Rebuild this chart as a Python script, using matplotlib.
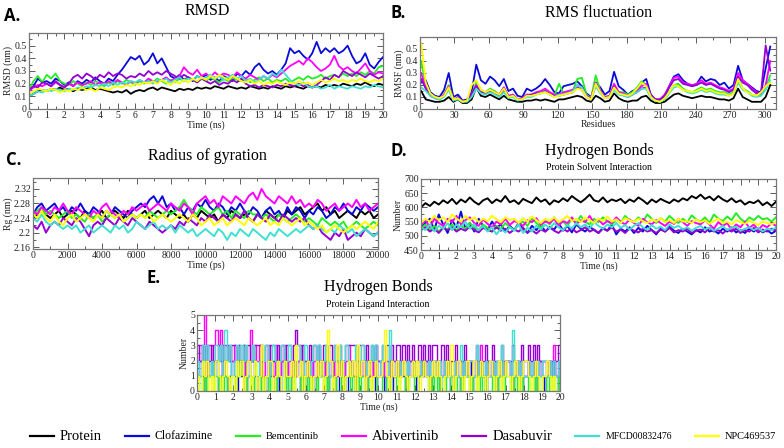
import numpy as np
import matplotlib
matplotlib.use("Agg")   # no display in the sandbox
import matplotlib.pyplot as plt
from matplotlib.lines import Line2D
from matplotlib.ticker import MultipleLocator, FuncFormatter

plt.rcParams["font.family"] = ["Liberation Serif", "DejaVu Serif"]

# ── Series names / colours (xmgrace default palette) ───────────────────────
NAMES  = ["Protein", "Clofazimine", "Bemcentinib", "Abivertinib",
          "Dasabuvir", "MFCD00832476", "NPC469537"]
COLORS = ["#000000", "#0a0ad8", "#22ee22", "#ff00ff",
          "#9400d3", "#40e0d0", "#ffff00"]
LEGEND_SIZES = [10.5, 8.5, 7.5, 10.5, 10.5, 7, 7.5]

# ── A. RMSD (nm), 0-20 ns, sampled every 0.25 ns ───────────────────────────
RMSD_PROTEIN = [0.10, 0.12, 0.14, 0.15, 0.14, 0.16, 0.15, 0.17, 0.15, 0.16, 0.14, 0.16, 0.15,
                0.16, 0.17, 0.15, 0.16, 0.15, 0.14, 0.13, 0.14, 0.13, 0.15, 0.12, 0.14, 0.15,
                0.14, 0.16, 0.17, 0.15, 0.17, 0.16, 0.15, 0.14, 0.16, 0.15, 0.16, 0.15, 0.17,
                0.16, 0.17, 0.16, 0.18, 0.17, 0.16, 0.18, 0.17, 0.16, 0.17, 0.16, 0.18, 0.17,
                0.16, 0.17, 0.16, 0.18, 0.17, 0.16, 0.18, 0.17, 0.18, 0.17, 0.16, 0.18, 0.17,
                0.18, 0.17, 0.19, 0.18, 0.19, 0.18, 0.20, 0.19, 0.18, 0.20, 0.19, 0.21, 0.19,
                0.18, 0.20, 0.19]
RMSD_CLOF = [0.14, 0.18, 0.24, 0.21, 0.22, 0.20, 0.24, 0.22, 0.19, 0.21, 0.18, 0.22, 0.20,
             0.23, 0.21, 0.25, 0.22, 0.20, 0.24, 0.22, 0.27, 0.31, 0.36, 0.41, 0.39, 0.42,
             0.35, 0.38, 0.44, 0.36, 0.40, 0.33, 0.26, 0.24, 0.27, 0.23, 0.25, 0.22, 0.26,
             0.24, 0.27, 0.23, 0.25, 0.22, 0.26, 0.24, 0.22, 0.28, 0.26, 0.30, 0.27, 0.33,
             0.36, 0.31, 0.28, 0.30, 0.27, 0.31, 0.36, 0.48, 0.44, 0.46, 0.42, 0.39, 0.44,
             0.53, 0.44, 0.48, 0.45, 0.48, 0.44, 0.46, 0.50, 0.42, 0.36, 0.38, 0.44, 0.35,
             0.32, 0.37, 0.41]
RMSD_BEMC = [0.15, 0.22, 0.26, 0.21, 0.27, 0.24, 0.28, 0.22, 0.20, 0.19, 0.22, 0.20, 0.18,
             0.21, 0.19, 0.22, 0.20, 0.18, 0.21, 0.19, 0.22, 0.20, 0.23, 0.21, 0.19, 0.22,
             0.20, 0.23, 0.21, 0.24, 0.22, 0.20, 0.23, 0.21, 0.24, 0.22, 0.25, 0.23, 0.21,
             0.24, 0.22, 0.25, 0.23, 0.21, 0.24, 0.22, 0.25, 0.23, 0.22, 0.24, 0.21, 0.23,
             0.25, 0.22, 0.24, 0.21, 0.23, 0.22, 0.24, 0.21, 0.23, 0.25, 0.23, 0.26, 0.24,
             0.25, 0.27, 0.24, 0.26, 0.27, 0.25, 0.28, 0.26, 0.28, 0.26, 0.29, 0.27, 0.30,
             0.28, 0.33, 0.34]
RMSD_ABIV = [0.14, 0.17, 0.19, 0.18, 0.20, 0.18, 0.21, 0.19, 0.17, 0.20, 0.18, 0.21, 0.19,
             0.20, 0.22, 0.19, 0.21, 0.20, 0.22, 0.20, 0.23, 0.21, 0.19, 0.22, 0.20, 0.23,
             0.21, 0.24, 0.22, 0.21, 0.23, 0.25, 0.22, 0.24, 0.26, 0.33, 0.29, 0.27, 0.31,
             0.26, 0.28, 0.25, 0.29, 0.26, 0.28, 0.27, 0.25, 0.29, 0.26, 0.24, 0.27, 0.25,
             0.23, 0.26, 0.24, 0.27, 0.25, 0.28, 0.31, 0.34, 0.36, 0.38, 0.35, 0.40, 0.37,
             0.33, 0.30, 0.32, 0.35, 0.42, 0.34, 0.31, 0.33, 0.30, 0.28, 0.32, 0.36, 0.30,
             0.27, 0.29, 0.28]
RMSD_DASA = [0.15, 0.18, 0.17, 0.21, 0.20, 0.18, 0.22, 0.19, 0.17, 0.20, 0.25, 0.27, 0.24,
             0.28, 0.26, 0.23, 0.27, 0.25, 0.29, 0.26, 0.28, 0.27, 0.24, 0.26, 0.25, 0.28,
             0.26, 0.30, 0.27, 0.29, 0.27, 0.30, 0.28, 0.26, 0.24, 0.27, 0.25, 0.23, 0.21,
             0.24, 0.22, 0.20, 0.22, 0.19, 0.21, 0.20, 0.23, 0.21, 0.24, 0.20, 0.18, 0.19,
             0.17, 0.19, 0.18, 0.17, 0.19, 0.18, 0.20, 0.19, 0.18, 0.20, 0.18, 0.19, 0.17,
             0.19, 0.22, 0.25, 0.23, 0.27, 0.25, 0.30, 0.28, 0.26, 0.29, 0.27, 0.25, 0.28,
             0.26, 0.24, 0.26]
RMSD_MFCD = [0.10, 0.12, 0.14, 0.13, 0.15, 0.14, 0.16, 0.15, 0.14, 0.16, 0.15, 0.17, 0.16,
             0.18, 0.17, 0.19, 0.18, 0.20, 0.18, 0.21, 0.19, 0.21, 0.20, 0.22, 0.21, 0.23,
             0.21, 0.22, 0.20, 0.23, 0.22, 0.24, 0.21, 0.23, 0.25, 0.22, 0.24, 0.23, 0.26,
             0.24, 0.25, 0.27, 0.24, 0.26, 0.23, 0.25, 0.27, 0.24, 0.26, 0.22, 0.24, 0.21,
             0.23, 0.26, 0.24, 0.28, 0.26, 0.31, 0.27, 0.23, 0.20, 0.19, 0.21, 0.18, 0.17,
             0.18, 0.16, 0.17, 0.19, 0.16, 0.18, 0.17, 0.16, 0.18, 0.17, 0.16, 0.18, 0.17,
             0.19, 0.18, 0.17]
RMSD_NPC = [0.12, 0.14, 0.16, 0.15, 0.14, 0.16, 0.15, 0.13, 0.15, 0.14, 0.16, 0.15, 0.17,
            0.15, 0.16, 0.14, 0.17, 0.16, 0.15, 0.17, 0.18, 0.17, 0.19, 0.18, 0.20, 0.19,
            0.21, 0.20, 0.22, 0.20, 0.23, 0.21, 0.19, 0.22, 0.20, 0.23, 0.21, 0.24, 0.22,
            0.25, 0.23, 0.26, 0.24, 0.27, 0.25, 0.23, 0.26, 0.24, 0.22, 0.21, 0.23, 0.20,
            0.22, 0.19, 0.21, 0.20, 0.22, 0.20, 0.19, 0.21, 0.20, 0.22, 0.20, 0.21, 0.19,
            0.21, 0.23, 0.21, 0.22, 0.24, 0.22, 0.23, 0.21, 0.23, 0.22, 0.24, 0.22, 0.21,
            0.23, 0.22, 0.24]

# ── B. RMSF (nm) per residue ───────────────────────────────────────────────
RESIDUES = [1, 5, 9, 13, 17, 21, 25, 29, 33, 37, 41, 45, 49, 53, 57, 61, 65, 69, 73, 77,
            81, 85, 89, 93, 97, 101, 105, 109, 113, 117, 121, 125, 129, 133, 137, 141,
            145, 149, 153, 157, 161, 165, 169, 173, 177, 181, 185, 189, 193, 197, 201,
            205, 209, 213, 217, 221, 225, 229, 233, 237, 241, 245, 249, 253, 257, 261,
            265, 269, 273, 277, 281, 285, 289, 293, 297, 301, 305]
RMSF_PROTEIN = [0.15, 0.08, 0.07, 0.06, 0.06, 0.07, 0.10, 0.06, 0.08, 0.05, 0.05, 0.08, 0.18,
                0.11, 0.10, 0.12, 0.10, 0.08, 0.11, 0.08, 0.07, 0.06, 0.06, 0.07, 0.07, 0.08,
                0.07, 0.08, 0.07, 0.06, 0.08, 0.08, 0.09, 0.10, 0.11, 0.10, 0.07, 0.06, 0.11,
                0.09, 0.06, 0.07, 0.13, 0.09, 0.07, 0.06, 0.07, 0.07, 0.10, 0.11, 0.07, 0.05,
                0.05, 0.06, 0.09, 0.12, 0.13, 0.11, 0.10, 0.09, 0.10, 0.11, 0.10, 0.10, 0.09,
                0.08, 0.08, 0.07, 0.09, 0.17, 0.10, 0.08, 0.06, 0.06, 0.06, 0.10, 0.20]
RMSF_CLOF = [0.22, 0.24, 0.14, 0.11, 0.10, 0.16, 0.30, 0.10, 0.12, 0.07, 0.08, 0.14, 0.37,
             0.24, 0.21, 0.27, 0.24, 0.19, 0.25, 0.15, 0.17, 0.11, 0.10, 0.17, 0.15, 0.17,
             0.20, 0.25, 0.20, 0.14, 0.13, 0.19, 0.20, 0.21, 0.23, 0.19, 0.13, 0.10, 0.22,
             0.18, 0.12, 0.15, 0.31, 0.19, 0.16, 0.12, 0.15, 0.16, 0.22, 0.25, 0.12, 0.08,
             0.07, 0.10, 0.19, 0.27, 0.29, 0.24, 0.21, 0.19, 0.21, 0.27, 0.23, 0.25, 0.24,
             0.20, 0.22, 0.17, 0.20, 0.36, 0.24, 0.21, 0.18, 0.15, 0.14, 0.34, 0.52]
RMSF_BEMC = [0.40, 0.20, 0.12, 0.10, 0.09, 0.12, 0.20, 0.08, 0.09, 0.06, 0.07, 0.12, 0.22,
             0.16, 0.14, 0.17, 0.15, 0.12, 0.18, 0.11, 0.12, 0.08, 0.08, 0.12, 0.11, 0.13,
             0.14, 0.15, 0.13, 0.11, 0.21, 0.13, 0.14, 0.15, 0.25, 0.26, 0.12, 0.09, 0.28,
             0.15, 0.10, 0.11, 0.20, 0.14, 0.14, 0.12, 0.14, 0.18, 0.23, 0.20, 0.10, 0.07,
             0.06, 0.08, 0.14, 0.20, 0.21, 0.17, 0.15, 0.14, 0.16, 0.18, 0.16, 0.17, 0.15,
             0.14, 0.14, 0.12, 0.14, 0.26, 0.17, 0.15, 0.12, 0.11, 0.12, 0.18, 0.28]
RMSF_ABIV = [0.30, 0.18, 0.12, 0.10, 0.09, 0.12, 0.19, 0.08, 0.09, 0.06, 0.07, 0.12, 0.20,
             0.15, 0.14, 0.16, 0.14, 0.12, 0.18, 0.11, 0.12, 0.08, 0.09, 0.12, 0.12, 0.14,
             0.15, 0.17, 0.14, 0.12, 0.12, 0.14, 0.15, 0.16, 0.20, 0.18, 0.11, 0.09, 0.22,
             0.15, 0.10, 0.11, 0.21, 0.14, 0.13, 0.11, 0.13, 0.15, 0.19, 0.21, 0.11, 0.08,
             0.08, 0.12, 0.19, 0.26, 0.27, 0.22, 0.21, 0.20, 0.21, 0.24, 0.21, 0.22, 0.20,
             0.18, 0.17, 0.15, 0.17, 0.30, 0.24, 0.21, 0.17, 0.14, 0.13, 0.20, 0.40]
RMSF_DASA = [0.25, 0.17, 0.11, 0.09, 0.08, 0.11, 0.17, 0.07, 0.10, 0.06, 0.07, 0.13, 0.19,
             0.14, 0.13, 0.15, 0.14, 0.11, 0.16, 0.10, 0.11, 0.08, 0.08, 0.11, 0.12, 0.13,
             0.13, 0.15, 0.12, 0.11, 0.11, 0.12, 0.13, 0.14, 0.18, 0.16, 0.10, 0.08, 0.20,
             0.14, 0.09, 0.10, 0.19, 0.13, 0.12, 0.10, 0.12, 0.14, 0.17, 0.18, 0.10, 0.08,
             0.08, 0.11, 0.18, 0.24, 0.25, 0.21, 0.20, 0.19, 0.20, 0.22, 0.20, 0.21, 0.19,
             0.17, 0.16, 0.14, 0.16, 0.27, 0.22, 0.20, 0.16, 0.13, 0.14, 0.53, 0.32]
RMSF_MFCD = [0.18, 0.15, 0.11, 0.09, 0.08, 0.10, 0.16, 0.07, 0.08, 0.06, 0.06, 0.10, 0.17,
             0.13, 0.12, 0.14, 0.12, 0.10, 0.14, 0.09, 0.10, 0.07, 0.08, 0.10, 0.10, 0.12,
             0.13, 0.14, 0.12, 0.10, 0.12, 0.12, 0.13, 0.15, 0.20, 0.18, 0.10, 0.08, 0.19,
             0.13, 0.09, 0.10, 0.16, 0.12, 0.11, 0.10, 0.12, 0.14, 0.17, 0.17, 0.09, 0.07,
             0.06, 0.08, 0.13, 0.18, 0.19, 0.16, 0.14, 0.13, 0.14, 0.16, 0.14, 0.15, 0.13,
             0.12, 0.12, 0.11, 0.13, 0.22, 0.16, 0.14, 0.11, 0.10, 0.11, 0.16, 0.24]
RMSF_NPC = [0.55, 0.22, 0.13, 0.10, 0.09, 0.11, 0.18, 0.08, 0.09, 0.06, 0.07, 0.20, 0.24,
            0.16, 0.14, 0.16, 0.14, 0.12, 0.17, 0.10, 0.11, 0.08, 0.08, 0.11, 0.11, 0.12,
            0.13, 0.14, 0.12, 0.10, 0.11, 0.12, 0.13, 0.14, 0.17, 0.16, 0.10, 0.08, 0.21,
            0.14, 0.09, 0.10, 0.18, 0.13, 0.12, 0.11, 0.13, 0.17, 0.22, 0.19, 0.10, 0.07,
            0.06, 0.09, 0.14, 0.20, 0.19, 0.16, 0.15, 0.14, 0.15, 0.17, 0.15, 0.16, 0.14,
            0.13, 0.13, 0.11, 0.13, 0.25, 0.17, 0.14, 0.12, 0.11, 0.14, 0.19, 0.22]

# ── C. Radius of gyration (nm), 0-20000 ps, sampled every 250 ps ───────────
RG_PROTEIN = [2.24, 2.25, 2.26, 2.25, 2.24, 2.25, 2.26, 2.24, 2.25, 2.26, 2.25, 2.24, 2.26,
              2.25, 2.24, 2.25, 2.26, 2.24, 2.25, 2.26, 2.25, 2.24, 2.26, 2.25, 2.24, 2.25,
              2.26, 2.24, 2.25, 2.26, 2.25, 2.24, 2.26, 2.25, 2.24, 2.25, 2.23, 2.25, 2.24,
              2.26, 2.25, 2.24, 2.25, 2.23, 2.25, 2.24, 2.26, 2.25, 2.24, 2.25, 2.24, 2.23,
              2.25, 2.24, 2.26, 2.25, 2.24, 2.25, 2.24, 2.26, 2.25, 2.26, 2.27, 2.25, 2.26,
              2.27, 2.28, 2.26, 2.27, 2.25, 2.26, 2.24, 2.25, 2.26, 2.25, 2.24, 2.26, 2.25,
              2.26, 2.24, 2.25]
RG_CLOF = [2.25, 2.27, 2.28, 2.26, 2.27, 2.28, 2.26, 2.27, 2.25, 2.27, 2.26, 2.28, 2.26,
           2.25, 2.27, 2.26, 2.24, 2.26, 2.25, 2.27, 2.26, 2.25, 2.24, 2.26, 2.27, 2.28,
           2.27, 2.29, 2.30, 2.28, 2.30, 2.27, 2.28, 2.26, 2.27, 2.25, 2.27, 2.26, 2.28,
           2.27, 2.29, 2.27, 2.26, 2.28, 2.27, 2.25, 2.27, 2.26, 2.28, 2.26, 2.25, 2.27,
           2.26, 2.24, 2.26, 2.27, 2.25, 2.26, 2.24, 2.27, 2.25, 2.27, 2.26, 2.24, 2.26,
           2.25, 2.27, 2.26, 2.24, 2.25, 2.27, 2.26, 2.28, 2.26, 2.25, 2.27, 2.26, 2.28,
           2.27, 2.26, 2.27]
RG_BEMC = [2.25, 2.26, 2.27, 2.25, 2.26, 2.25, 2.24, 2.25, 2.26, 2.24, 2.25, 2.24, 2.23,
           2.25, 2.24, 2.25, 2.23, 2.24, 2.25, 2.24, 2.25, 2.23, 2.24, 2.25, 2.24, 2.25,
           2.24, 2.26, 2.25, 2.24, 2.25, 2.26, 2.25, 2.26, 2.27, 2.29, 2.27, 2.26, 2.25,
           2.27, 2.26, 2.25, 2.26, 2.27, 2.25, 2.26, 2.24, 2.26, 2.25, 2.24, 2.26, 2.25,
           2.25, 2.24, 2.25, 2.24, 2.23, 2.25, 2.24, 2.23, 2.24, 2.25, 2.24, 2.23, 2.24,
           2.23, 2.22, 2.24, 2.23, 2.22, 2.23, 2.22, 2.23, 2.21, 2.22, 2.23, 2.22, 2.21,
           2.22, 2.23, 2.22]
RG_ABIV = [2.26, 2.25, 2.27, 2.26, 2.25, 2.27, 2.26, 2.28, 2.26, 2.25, 2.27, 2.26, 2.25,
           2.24, 2.26, 2.25, 2.27, 2.28, 2.26, 2.25, 2.24, 2.26, 2.25, 2.27, 2.26, 2.27,
           2.28, 2.26, 2.27, 2.28, 2.27, 2.26, 2.28, 2.27, 2.26, 2.28, 2.27, 2.25, 2.28,
           2.29, 2.30, 2.28, 2.29, 2.27, 2.30, 2.29, 2.28, 2.30, 2.29, 2.28, 2.30, 2.31,
           2.29, 2.32, 2.30, 2.29, 2.28, 2.30, 2.29, 2.28, 2.30, 2.28, 2.29, 2.27, 2.28,
           2.27, 2.29, 2.28, 2.26, 2.27, 2.28, 2.26, 2.27, 2.28, 2.27, 2.29, 2.27, 2.28,
           2.26, 2.27, 2.28]
RG_DASA = [2.22, 2.21, 2.23, 2.20, 2.22, 2.23, 2.22, 2.24, 2.23, 2.22, 2.24, 2.23, 2.21,
           2.19, 2.22, 2.23, 2.22, 2.24, 2.23, 2.22, 2.24, 2.23, 2.22, 2.24, 2.23, 2.22,
           2.21, 2.23, 2.22, 2.21, 2.20, 2.21, 2.22, 2.21, 2.23, 2.22, 2.24, 2.23, 2.22,
           2.24, 2.23, 2.25, 2.24, 2.23, 2.25, 2.24, 2.23, 2.25, 2.24, 2.26, 2.24, 2.23,
           2.25, 2.24, 2.23, 2.25, 2.24, 2.23, 2.25, 2.24, 2.23, 2.24, 2.23, 2.24, 2.22,
           2.21, 2.22, 2.20, 2.19, 2.18, 2.20, 2.19, 2.21, 2.18, 2.19, 2.20, 2.19, 2.21,
           2.20, 2.19, 2.20]
RG_MFCD = [2.24, 2.23, 2.25, 2.23, 2.22, 2.23, 2.22, 2.21, 2.22, 2.21, 2.22, 2.20, 2.21,
           2.22, 2.20, 2.21, 2.22, 2.21, 2.20, 2.22, 2.21, 2.22, 2.20, 2.21, 2.23, 2.22,
           2.21, 2.22, 2.23, 2.21, 2.22, 2.21, 2.22, 2.20, 2.22, 2.21, 2.20, 2.21, 2.19,
           2.20, 2.21, 2.20, 2.19, 2.21, 2.20, 2.18, 2.20, 2.19, 2.21, 2.20, 2.19, 2.21,
           2.20, 2.19, 2.18, 2.20, 2.19, 2.21, 2.20, 2.19, 2.20, 2.21, 2.20, 2.21, 2.22,
           2.21, 2.22, 2.21, 2.20, 2.21, 2.20, 2.22, 2.21, 2.20, 2.21, 2.19, 2.20, 2.21,
           2.20, 2.19, 2.20]
RG_NPC = [2.25, 2.24, 2.26, 2.24, 2.23, 2.25, 2.23, 2.22, 2.24, 2.25, 2.23, 2.24, 2.25,
          2.24, 2.23, 2.25, 2.24, 2.26, 2.25, 2.24, 2.25, 2.23, 2.24, 2.25, 2.24, 2.25,
          2.24, 2.25, 2.23, 2.24, 2.25, 2.24, 2.23, 2.24, 2.25, 2.24, 2.23, 2.25, 2.24,
          2.22, 2.23, 2.24, 2.22, 2.23, 2.24, 2.22, 2.23, 2.24, 2.23, 2.22, 2.24, 2.23,
          2.22, 2.23, 2.24, 2.22, 2.23, 2.22, 2.24, 2.23, 2.22, 2.23, 2.24, 2.22, 2.23,
          2.22, 2.21, 2.22, 2.20, 2.21, 2.22, 2.21, 2.20, 2.21, 2.22, 2.21, 2.22, 2.23,
          2.22, 2.21, 2.23]

# ── D. Protein-solvent H-bonds, 0-20 ns, every 0.25 ns ─────────────────────
HBS_PROTEIN = [600, 615, 605, 620, 610, 625, 615, 630, 612, 628, 618, 635, 620, 610, 625,
               632, 615, 628, 620, 640, 618, 625, 612, 630, 622, 615, 635, 620, 628, 610,
               625, 618, 632, 622, 640, 628, 618, 630, 645, 625, 620, 635, 618, 628, 622,
               630, 615, 628, 620, 635, 625, 612, 628, 618, 630, 622, 615, 628, 620, 632,
               625, 640, 632, 645, 630, 638, 625, 640, 628, 620, 632, 618, 625, 610, 620,
               615, 625, 608, 618, 605, 620]
HBS_CLOF = [530, 545, 560, 520, 575, 540, 510, 555, 530, 585, 525, 545, 515, 560, 535,
            520, 550, 528, 540, 515, 535, 520, 545, 525, 510, 535, 520, 540, 515, 530,
            522, 545, 518, 535, 512, 540, 525, 515, 532, 520, 510, 528, 518, 540, 505,
            525, 515, 530, 510, 528, 515, 535, 520, 505, 525, 515, 532, 518, 510, 525,
            515, 505, 520, 512, 530, 515, 520, 508, 525, 515, 530, 512, 520, 510, 525,
            515, 528, 512, 520, 508, 518]
HBS_BEMC = [525, 540, 520, 535, 515, 530, 522, 540, 518, 535, 525, 545, 530, 520, 540,
            528, 515, 535, 525, 545, 530, 520, 540, 550, 535, 560, 545, 530, 555, 540,
            565, 545, 550, 535, 560, 545, 570, 550, 540, 560, 548, 565, 552, 540, 558,
            545, 570, 555, 548, 565, 550, 575, 560, 545, 562, 550, 570, 555, 545, 560,
            548, 572, 558, 550, 565, 545, 575, 560, 552, 568, 555, 580, 560, 548, 565,
            555, 570, 558, 562, 550, 565]
HBS_ABIV = [540, 555, 530, 560, 545, 535, 560, 548, 570, 540, 555, 565, 545, 535, 558,
            542, 530, 550, 540, 560, 538, 552, 545, 535, 555, 548, 562, 540, 550, 545,
            560, 535, 552, 545, 565, 540, 555, 548, 570, 545, 558, 540, 552, 545, 565,
            550, 540, 558, 545, 535, 560, 548, 540, 555, 545, 535, 550, 542, 560, 548,
            535, 552, 545, 540, 555, 540, 525, 548, 535, 545, 520, 540, 530, 550, 528,
            540, 520, 538, 530, 545, 535]
HBS_DASA = [520, 530, 515, 525, 510, 528, 520, 530, 515, 525, 518, 532, 520, 512, 528,
            520, 515, 530, 518, 525, 510, 522, 515, 528, 512, 520, 508, 522, 515, 530,
            518, 510, 525, 515, 528, 512, 520, 530, 515, 522, 510, 525, 518, 530, 515,
            522, 510, 526, 518, 512, 525, 515, 520, 510, 522, 515, 528, 512, 520, 515,
            525, 510, 518, 522, 512, 528, 515, 520, 508, 522, 515, 525, 510, 520, 515,
            528, 512, 522, 515, 525, 518]
HBS_MFCD = [530, 520, 540, 515, 535, 525, 545, 520, 540, 530, 550, 525, 540, 520, 535,
            515, 530, 505, 525, 512, 530, 518, 540, 510, 528, 515, 535, 522, 540, 525,
            545, 530, 520, 538, 525, 545, 530, 540, 525, 548, 535, 525, 540, 530, 545,
            528, 538, 522, 535, 545, 530, 520, 538, 525, 532, 520, 540, 528, 535, 522,
            530, 518, 528, 535, 522, 530, 518, 525, 535, 520, 528, 532, 518, 525, 530,
            520, 528, 515, 525, 520, 530]
HBS_NPC = [545, 560, 550, 570, 555, 565, 548, 575, 560, 550, 570, 555, 565, 548, 560,
           552, 570, 558, 548, 565, 555, 560, 545, 562, 550, 568, 555, 545, 560, 552,
           565, 548, 558, 570, 552, 560, 548, 565, 555, 545, 560, 552, 568, 550, 558,
           545, 562, 555, 548, 560, 552, 545, 558, 550, 562, 548, 555, 545, 560, 550,
           552, 545, 558, 548, 555, 542, 552, 560, 545, 550, 540, 555, 548, 542, 552,
           545, 538, 550, 545, 540, 548]

# ── E. Protein-ligand H-bond counts, 0-20 ns, every 0.125 ns (one digit each) ──
HBL_CLOF = ("12102121" "20121012" "10212012" "21012102" "12010212" "01212010" "21201212"
            "10121021" "20121012" "12012102" "21012012" "12101221" "01212101" "21012120"
            "12101212" "01212102" "12101212" "21012101" "12120121" "01212102")
HBL_BEMC = ("01010110" "10101001" "01121010" "10010101" "01011010" "10100101" "01010110"
            "10101001" "01101010" "10010110" "01101001" "10010110" "01121010" "10101001"
            "01010110" "10101010" "01010101" "10101010" "01010101" "10101010")
HBL_ABIV = ("23251323" "43413232" "32323124" "23231213" "21321231" "21212312" "12121321"
            "21212121" "12312121" "21212131" "12121212" "21212121" "12121212" "21212121"
            "12121212" "21213121" "12121212" "21212121" "12121212" "21213121")
HBL_DASA = ("32323232" "23232323" "32323232" "23333232" "33232323" "32343232" "23232323"
            "32323232" "23333323" "32323232" "23232323" "32323232" "23232323" "32232322"
            "23222322" "22322232" "23222322" "22322232" "23232322" "22222233")
HBL_MFCD = ("21323121" "32314231" "23132312" "32123231" "23212312" "32123213" "21232312"
            "32123231" "23212312" "32123231" "23214212" "21212121" "12121212" "21212121"
            "12131212" "21312121" "12121312" "21412121" "12121212" "21212121")
HBL_NPC = ("10212010" "21012101" "02120120" "12013012" "20121021" "12031201" "21012120"
           "14201312" "01212031" "20120121" "12410212" "01210121" "20121012" "12101213"
           "01210120" "12012101" "21012012" "10121012" "21012101" "12101000")


def px_box(left, top, right, bottom, W=784, H=448):
    """Axes rectangle from pixel edges of the 784x448 canvas."""
    return [left / W, 1 - bottom / H, (right - left) / W, (bottom - top) / H]


def style_axes(ax, xlim, ylim, xmaj, xmin, ymaj, ymin, xlabel, ylabel, yticks=None):
    ax.set_xlim(*xlim)
    ax.set_ylim(*ylim)
    ax.xaxis.set_major_locator(MultipleLocator(xmaj))
    ax.xaxis.set_minor_locator(MultipleLocator(xmin))
    if yticks is not None:
        ax.set_yticks(yticks)
    else:
        ax.yaxis.set_major_locator(MultipleLocator(ymaj))
    ax.yaxis.set_minor_locator(MultipleLocator(ymin))
    fmt = FuncFormatter(lambda v, p: "%g" % round(v, 4))
    ax.xaxis.set_major_formatter(fmt)
    ax.yaxis.set_major_formatter(fmt)
    ax.tick_params(which="both", direction="in", top=True, right=True,
                   width=0.6, colors="#444444", labelcolor="#222222",
                   labelsize=7, pad=1.5)
    ax.tick_params(which="major", length=4)
    ax.tick_params(which="minor", length=2)
    for s in ax.spines.values():
        s.set_color("#777777")
        s.set_linewidth(0.9)
    ax.set_xlabel(xlabel, fontsize=7, labelpad=0, color="#222222")
    ax.set_ylabel(ylabel, fontsize=7, labelpad=1, color="#222222")


def plot_series(ax, series, x_end, lw=1.3, **kw):
    for vals, color in zip(series, COLORS[-len(series):]):
        x = np.linspace(0, x_end, len(vals))
        ax.plot(x, vals, color=color, lw=lw, **kw)


fig = plt.figure(figsize=(7.84, 4.48), dpi=100)

# A. RMSD
axA = fig.add_axes(px_box(29, 33, 383, 109))
plot_series(axA, [RMSD_PROTEIN, RMSD_CLOF, RMSD_BEMC, RMSD_ABIV,
                  RMSD_DASA, RMSD_MFCD, RMSD_NPC], 20)
style_axes(axA, (0, 20), (0, 0.6), 1, 0.5, None, 0.05, "Time (ns)", "RMSD (nm)",
           yticks=[0, 0.1, 0.2, 0.3, 0.4, 0.5])

# B. RMSF
axB = fig.add_axes(px_box(420, 37, 776, 109))
for vals, color in zip([RMSF_PROTEIN, RMSF_CLOF, RMSF_BEMC, RMSF_ABIV,
                        RMSF_DASA, RMSF_MFCD, RMSF_NPC], COLORS):
    axB.plot(RESIDUES, vals, color=color, lw=1.3)
style_axes(axB, (0, 310), (0, 0.6), 30, 15, None, 0.05, "Residues", "RMSF (nm)",
           yticks=[0, 0.1, 0.2, 0.3, 0.4, 0.5])

# C. Radius of gyration
axC = fig.add_axes(px_box(33, 178, 378, 249))
plot_series(axC, [RG_PROTEIN, RG_CLOF, RG_BEMC, RG_ABIV,
                  RG_DASA, RG_MFCD, RG_NPC], 20000, lw=1.4)
style_axes(axC, (0, 20000), (2.155, 2.35), 2000, 1000, None, 0.02, "Time (ps)", "Rg (nm)",
           yticks=[2.16, 2.2, 2.24, 2.28, 2.32])

# D. Protein-solvent hydrogen bonds
axD = fig.add_axes(px_box(421, 179, 776, 250))
plot_series(axD, [HBS_PROTEIN, HBS_CLOF, HBS_BEMC, HBS_ABIV,
                  HBS_DASA, HBS_MFCD, HBS_NPC], 20, lw=1.4)
style_axes(axD, (0, 20), (450, 700), 1, 0.5, 50, 25, "Time (ns)", "Number")

# E. Protein-ligand hydrogen bonds (integer counts drawn as steps)
axE = fig.add_axes(px_box(197, 315, 560, 391))
ligand = [[int(c) for c in s] for s in
          (HBL_CLOF, HBL_BEMC, HBL_ABIV, HBL_DASA, HBL_MFCD, HBL_NPC)]
plot_series(axE, ligand, 20, lw=1.0, drawstyle="steps-post")
style_axes(axE, (0, 20), (0, 5), 1, 0.5, 1, 0.5, "Time (ns)", "Number")

# ── Titles and panel letters (pixel positions) ─────────────────────────────
def ftext(x, y, s, **kw):
    fig.text(x / 784, 1 - y / 448, s, ha=kw.pop("ha", "center"), va="center", **kw)

ftext(207, 11, "RMSD", fontsize=11.5)
ftext(599, 13, "RMS fluctuation", fontsize=11.5)
ftext(207, 156, "Radius of gyration", fontsize=11.5)
ftext(599, 151, "Hydrogen Bonds", fontsize=11.5)
ftext(599, 168, "Protein Solvent Interaction", fontsize=7)
ftext(378, 287, "Hydrogen Bonds", fontsize=11.5)
ftext(378, 304, "Protein Ligand Interaction", fontsize=7)

LETTER = dict(fontsize=12, fontweight="bold", family="Open Sans", ha="left")
ftext(4, 16, "A.", **LETTER)
ftext(390, 13, "B.", **LETTER)
ftext(6, 160, "C.", **LETTER)
ftext(390, 151, "D.", **LETTER)
ftext(146, 278, "E.", **LETTER)

# ── Bottom legend: line + label, spread across the width ───────────────────
fig.canvas.draw()
renderer = fig.canvas.get_renderer()
y_leg = 1 - 436 / 448
labels = [fig.text(0, y_leg, n, fontsize=sz, va="center", ha="left")
          for n, sz in zip(NAMES, LEGEND_SIZES)]
widths = [t.get_window_extent(renderer).width for t in labels]
line_len, pad = 24, 6
x_start, x_end = 30, 776
gap = (x_end - x_start - sum(widths) - len(NAMES) * (line_len + pad)) / (len(NAMES) - 1)
x = x_start
for t, w, color in zip(labels, widths, COLORS):
    fig.add_artist(Line2D([x / 784, (x + line_len) / 784], [y_leg, y_leg],
                          color=color, lw=1.6, transform=fig.transFigure))
    x += line_len + pad
    t.set_x(x / 784)
    x += w + gap

fig.savefig("out.png", dpi=100)
